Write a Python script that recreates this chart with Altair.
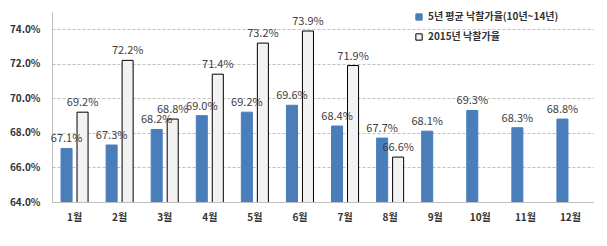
import altair as alt
import pandas as pd

months = ["1월", "2월", "3월", "4월", "5월", "6월", "7월", "8월", "9월", "10월", "11월", "12월"]
avg_5y = [67.1, 67.3, 68.2, 69.0, 69.2, 69.6, 68.4, 67.7, 68.1, 69.3, 68.3, 68.8]
y2015 = [69.2, 72.2, 68.8, 71.4, 73.2, 73.9, 71.9, 66.6, None, None, None, None]
series = ["5년 평균 낙찰가율(10년~14년)", "2015년 낙찰가율"]
y_ticks = [64, 66, 68, 70, 72, 74]

rows = []
for m, a, b in zip(months, avg_5y, y2015):
    rows.append({"month": m, "series": series[0], "value": a})
    if b is not None:
        rows.append({"month": m, "series": series[1], "value": b})
df = pd.DataFrame(rows)

FONT = "Noto Sans CJK KR"

x = alt.X("month:N", sort=months, title=None,
          scale=alt.Scale(paddingInner=0.4, paddingOuter=0.2),
          axis=alt.Axis(labelAngle=0, labelFontSize=10, labelColor="#333333", labelFontWeight="bold",
                        labelFont=FONT, ticks=False, domainColor="#bfbfbf", labelPadding=10))
xo = alt.XOffset("series:N", sort=series, scale=alt.Scale(domain=series, paddingInner=0.31, paddingOuter=0))
y = alt.Y("value:Q", title=None,
          scale=alt.Scale(domain=[64, 75], nice=False, zero=False),
          axis=alt.Axis(values=y_ticks, labelExpr="format(datum.value, '.1f') + '%'",
                        labelFontSize=10, labelColor="#333333", labelFont=FONT, labelFontWeight="bold",
                        ticks=False, domainColor="#bfbfbf", gridColor="#bfbfbf", gridDash=[3, 2],
                        labelPadding=12))

bars = alt.Chart(df).mark_bar(strokeWidth=1, clip=True).encode(
    x=x, xOffset=xo, y=y,
    fill=alt.Fill("series:N", sort=series, title=None,
                  scale=alt.Scale(domain=series, range=["#4A7EBB", "#F2F2F2"]),
                  legend=alt.Legend(orient="none", legendX=362, legendY=0, symbolType="square",
                                    symbolSize=40, labelFontSize=10, labelFont=FONT,
                                    labelColor="#333333", labelFontWeight="bold", rowPadding=8,
                                    symbolStrokeWidth=1)),
    stroke=alt.Stroke("series:N", sort=series, title=None,
                      scale=alt.Scale(domain=series, range=["#4A7EBB", "#000000"]))
)

labels = alt.Chart(df).transform_calculate(
    lbl="format(datum.value, '.1f') + '%'"
).mark_text(dy=-9, fontSize=11, color="#404040", font=FONT).encode(
    x=x, xOffset=xo, y=y, text="lbl:N"
)

chart = alt.layer(bars, labels).properties(
    width=541, height=190,
    autosize="none",
    padding={"left": 52, "top": 12, "right": 14, "bottom": 44},
    background="white"
).configure_view(stroke=None).configure_axisX(grid=False)

chart.save("out.html", embed_options={"renderer": "svg", "actions": False})
